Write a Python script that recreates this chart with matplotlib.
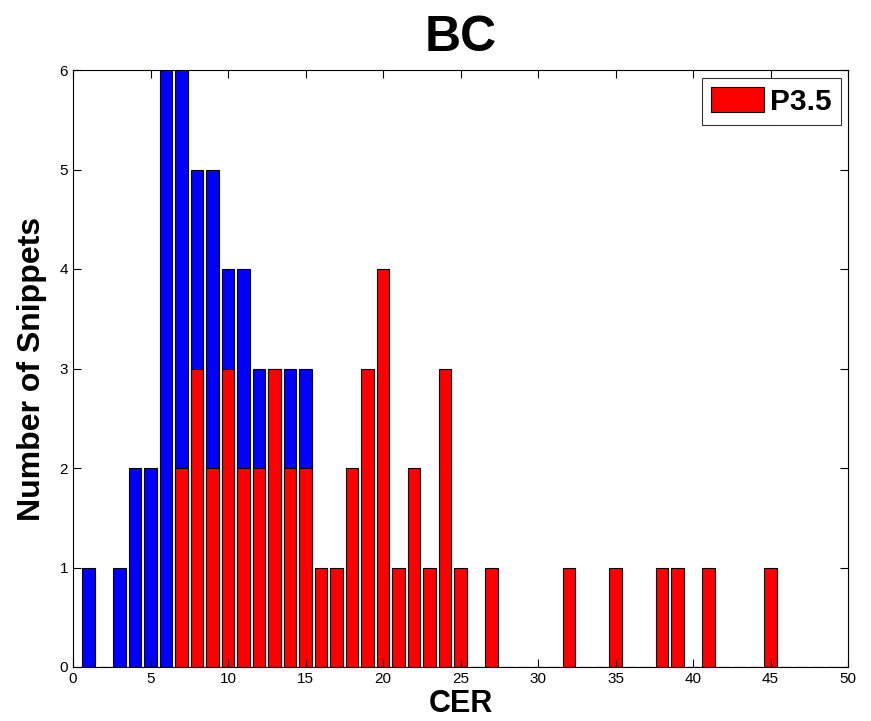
import numpy as np
import matplotlib.pyplot as plt
from matplotlib.patches import Patch

plt.rcParams['font.family'] = ['Liberation Sans', 'DejaVu Sans']

# CER bins and snippet counts
cer = np.arange(1, 51)
blue_counts = [1, 0, 1, 2, 2, 6, 6, 5, 5, 4, 4, 3, 3, 3, 3] + [0] * 35
red_counts = [0, 0, 0, 0, 0, 0, 2, 3, 2, 3, 2, 2, 3, 2, 2, 1, 1, 2, 3, 4,
              1, 2, 1, 3, 1, 0, 1, 0, 0, 0, 0, 1, 0, 0, 1, 0, 0, 1, 1, 0,
              1, 0, 0, 0, 1, 0, 0, 0, 0, 0]
legend_label = 'P3.5'

fig = plt.figure(figsize=(8.71, 7.21), dpi=100)
ax = fig.add_axes([73 / 871, 1 - 667 / 721, 775 / 871, 597 / 721])

ax.bar(cer, blue_counts, width=0.8, color='#0000ff', edgecolor='black', linewidth=0.8)
ax.bar(cer, red_counts, width=0.8, color='#ff0000', edgecolor='black', linewidth=0.8)

ax.set_xlim(0, 50)
ax.set_ylim(0, 6)
ax.set_xticks(np.arange(0, 51, 5))
ax.set_yticks(np.arange(0, 7, 1))
ax.tick_params(direction='in', top=True, right=True, length=6, labelsize=11)
for s in ax.spines.values():
    s.set_linewidth(0.8)

ax.set_title('BC', fontsize=36, fontweight='bold', pad=14)
ax.set_xlabel('CER', fontsize=22, fontweight='bold', labelpad=2)
ax.set_ylabel('Number of Snippets', fontsize=23, fontweight='bold', labelpad=9)

handle = Patch(facecolor='#ff0000', edgecolor='black', linewidth=0.8)
leg = ax.legend([handle], [legend_label], loc='upper right',
                bbox_to_anchor=(0.991, 0.987), borderaxespad=0,
                fancybox=False, edgecolor='black',
                prop={'size': 21.5, 'weight': 'bold'},
                handlelength=1.8, handleheight=0.95, borderpad=0.3,
                handletextpad=0.2)
leg.get_frame().set_linewidth(0.8)

plt.savefig('out.png', dpi=100)
